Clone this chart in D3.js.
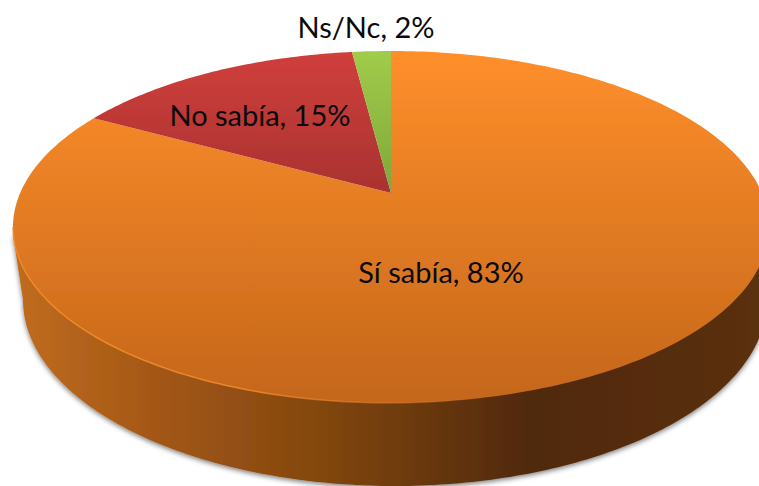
<!DOCTYPE html>
<html><head><meta charset="utf-8">
<script src="https://cdn.jsdelivr.net/npm/d3@7"></script>
<style>html,body{margin:0;padding:0;background:#fff;overflow:hidden}svg{display:block}
text{font-family:Lato,"Open Sans",sans-serif;fill:#0a0a0a}</style>
</head><body><svg id="c" width="759" height="486"></svg>
<script>
// Data (drawn clockwise from 12 o'clock)
const categories = ["Sí sabía", "No sabía", "Ns/Nc"];
const values = [83, 15, 2];
const topColors = ["#ff8f2b", "#d03f3c", "#a0cc4b"];
const bottomColors = ["#c4661a", "#6f1f1f", "#4f6f1e"];

// Layout
const face = {cx: 391, cy: 227, rx: 378, ry: 176};
const base = {cx: 395, cy: 300, rx: 372, ry: 186};
const apexY = 193;
const labelPos = [[441, 271], [260, 114], [366, 26]];
const fontSize = 29;

const svg = d3.select("#c");
const defs = svg.append("defs");
const x = d3.scaleLinear().domain([-1, 1]).range([face.cx - face.rx, face.cx + face.rx]);
const y = d3.scaleLinear().domain([-1, 1]).range([face.cy - face.ry, face.cy + face.ry]);

// perspective: maps the unit disc to itself, moving the disc centre to the apex
const c = y.invert(apexY);
const k = Math.sqrt(1 - c * c);
function project(a) {
  const u = Math.sin(a), v = -Math.cos(a), d = 1 + c * v;
  return [x(u * k / d), y((v + c) / d)];
}

const pie = d3.pie().sort(null).startAngle(0).endAngle(2 * Math.PI);
const arcs = pie(values);

values.forEach((_, i) => {
  const g = defs.append("linearGradient").attr("id", "g" + i).attr("gradientUnits", "userSpaceOnUse")
    .attr("x1", 0).attr("x2", 0).attr("y1", face.cy - face.ry).attr("y2", face.cy + face.ry);
  g.append("stop").attr("offset", 0).attr("stop-color", topColors[i]);
  g.append("stop").attr("offset", 1).attr("stop-color", bottomColors[i]);
});
const sideGrad = defs.append("linearGradient").attr("id", "side").attr("gradientUnits", "userSpaceOnUse")
  .attr("x1", 15).attr("x2", 759).attr("y1", 0).attr("y2", 0);
[[0, "#c06c1e"], [0.2, "#a25616"], [0.4, "#84480f"], [0.69, "#50290b"], [1, "#5a300c"]]
  .forEach(([o, col]) => sideGrad.append("stop").attr("offset", o).attr("stop-color", col));
const rimGrad = defs.append("linearGradient").attr("id", "rimG").attr("gradientUnits", "userSpaceOnUse")
  .attr("x1", 230).attr("x2", 500).attr("y1", 0).attr("y2", 0);
rimGrad.append("stop").attr("offset", 0).attr("stop-color", "#f58e2e").attr("stop-opacity", 0.85);
rimGrad.append("stop").attr("offset", 1).attr("stop-color", "#f58e2e").attr("stop-opacity", 0);
const f = defs.append("filter").attr("id", "sh").attr("x", "-5%").attr("y", "-5%").attr("width", "110%").attr("height", "115%");
f.append("feDropShadow").attr("dx", 0).attr("dy", 2).attr("stdDeviation", 2.5).attr("flood-color", "#000").attr("flood-opacity", 0.5);
const soft = defs.append("filter").attr("id", "soft").attr("x", "-5%").attr("y", "-5%").attr("width", "110%").attr("height", "110%");
soft.append("feGaussianBlur").attr("stdDeviation", 0.5);

// side wall
const line = d3.line();
const baseArc = d3.range(0, 181).map(i => {
  const a = Math.PI * i / 180;
  return [base.cx - base.rx * Math.cos(a), base.cy + base.ry * Math.sin(a)];
});
const wallPts = [[face.cx - face.rx, face.cy + 8], ...baseArc, [face.cx + face.rx, face.cy + 8]];
svg.append("path").attr("d", line(wallPts) + "Z").attr("fill", "url(#side)").attr("filter", "url(#sh)");

// top face
svg.append("g").attr("filter", "url(#soft)").selectAll("path").data(arcs).join("path")
  .attr("d", d => {
    const n = Math.max(2, Math.ceil((d.endAngle - d.startAngle) * 60));
    const pts = d3.range(n + 1).map(i => project(d.startAngle + (d.endAngle - d.startAngle) * i / n));
    return line([[x(0), apexY], ...pts]) + "Z";
  })
  .attr("fill", (d, i) => `url(#g${i})`);

// light rim on the front-left edge of the top face, fading out to the right
const rim = d3.range(70, 181).map(i => {
  const a = Math.PI * i / 180;
  return [face.cx + face.rx * Math.cos(a), face.cy + face.ry * Math.sin(a)];
});
svg.append("path").attr("d", line(rim)).attr("fill", "none").attr("stroke", "url(#rimG)")
  .attr("stroke-width", 1.5).attr("filter", "url(#soft)");

// labels
svg.append("g").selectAll("text").data(categories).join("text")
  .attr("x", (d, i) => labelPos[i][0]).attr("y", (d, i) => labelPos[i][1])
  .attr("text-anchor", "middle").attr("dominant-baseline", "central")
  .attr("font-size", fontSize)
  .text((d, i) => `${d}, ${values[i]}%`);
</script></body></html>
